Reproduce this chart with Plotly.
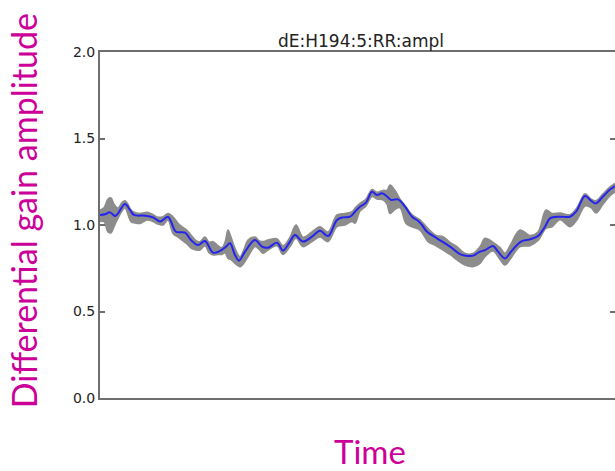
import plotly.graph_objects as go

# ---- data (time in arbitrary units, values = differential gain amplitude) ----
band_t = [0, 4, 8, 11, 14, 18, 22, 25, 28, 31, 36, 40, 47, 53, 58, 63, 68, 73, 78, 82,
          87, 91, 96, 100, 105, 109, 113, 118, 122, 125, 128, 131, 135, 140, 144, 148,
          155, 159, 163, 168, 177, 183, 190, 196, 203, 212, 220, 228, 237, 245, 252,
          255, 260, 266, 272, 277, 283, 287, 290, 295, 300, 306, 312, 320, 328, 336,
          343, 350, 357, 365, 373, 380, 385, 393, 400, 405, 410, 420, 430, 438, 446,
          452, 460, 470, 477, 485, 491, 496, 503, 510, 515]
band_upper = [1.087, 1.10, 1.15, 1.156, 1.12, 1.098, 1.13, 1.14, 1.12, 1.087, 1.07, 1.067,
              1.073, 1.06, 1.045, 1.048, 1.067, 1.048, 1.01, 0.99, 0.97, 0.942, 0.91,
              0.904, 0.93, 0.90, 0.904, 0.88, 0.87, 0.90, 0.971, 0.93, 0.865, 0.817,
              0.86, 0.913, 0.93, 0.91, 0.904, 0.913, 0.92, 0.88, 0.93, 1.00, 0.93, 0.96,
              0.99, 0.96, 1.058, 1.067, 1.077, 1.098, 1.125, 1.15, 1.205, 1.19, 1.20,
              1.20, 1.231, 1.20, 1.15, 1.106, 1.06, 1.03, 0.98, 0.94, 0.933, 0.90,
              0.875, 0.836, 0.836, 0.875, 0.923, 0.90, 0.87, 0.836, 0.88, 0.971, 0.94,
              0.96, 1.087, 1.067, 1.07, 1.06, 1.10, 1.18, 1.15, 1.14, 1.18, 1.22, 1.24]
band_lower = [1.020, 1.02, 0.96, 0.954, 0.99, 1.040, 1.08, 1.10, 1.06, 1.019, 1.01, 1.009,
              1.029, 1.02, 1.005, 1.000, 1.029, 0.951, 0.93, 0.913, 0.89, 0.867, 0.855,
              0.855, 0.88, 0.84, 0.827, 0.83, 0.83, 0.84, 0.807, 0.80, 0.778, 0.759,
              0.78, 0.817, 0.875, 0.86, 0.836, 0.855, 0.88, 0.83, 0.875, 0.923, 0.875,
              0.904, 0.93, 0.904, 0.99, 1.00, 1.02, 1.01, 1.08, 1.11, 1.165, 1.15,
              1.145, 1.12, 1.067, 1.09, 1.10, 1.009, 0.99, 0.97, 0.904, 0.88, 0.855,
              0.83, 0.798, 0.769, 0.759, 0.778, 0.817, 0.85, 0.80, 0.769, 0.80, 0.875,
              0.88, 0.91, 0.98, 0.99, 1.03, 0.99, 1.03, 1.11, 1.10, 1.07, 1.12, 1.17, 1.19]

fit_t = [0, 5, 10, 15, 18, 25, 30, 34, 45, 53, 60, 63, 68, 71, 76, 85, 91, 98, 105, 113,
         120, 126, 130, 135, 139, 145, 155, 162, 168, 177, 183, 190, 195, 203, 212, 220,
         228, 237, 243, 250, 255, 260, 266, 272, 277, 282, 287, 291, 298, 305, 312, 318,
         322, 327, 337, 350, 362, 373, 380, 385, 393, 398, 405, 411, 421, 430, 438, 445,
         450, 460, 470, 476, 485, 491, 496, 503, 510, 515]
fit_val = [1.058, 1.062, 1.073, 1.052, 1.067, 1.121, 1.087, 1.058, 1.054, 1.044, 1.020,
           1.029, 1.048, 1.020, 0.961, 0.956, 0.913, 0.884, 0.908, 0.840, 0.850, 0.875,
           0.894, 0.827, 0.794, 0.846, 0.913, 0.875, 0.869, 0.898, 0.852, 0.904, 0.942,
           0.904, 0.933, 0.967, 0.936, 1.029, 1.044, 1.048, 1.077, 1.106, 1.129, 1.192,
           1.173, 1.183, 1.165, 1.145, 1.148, 1.106, 1.048, 1.025, 1.000, 0.961, 0.923,
           0.875, 0.827, 0.823, 0.846, 0.855, 0.879, 0.846, 0.807, 0.846, 0.904, 0.917,
           0.936, 0.990, 1.038, 1.048, 1.048, 1.077, 1.168, 1.141, 1.125, 1.165, 1.205,
           1.225]

y_ticks = [0.0, 0.5, 1.0, 1.5, 2.0]
y_tick_labels = ["0.0", "0.5", "1.0", "1.5", "2.0"]

title_text = "dE:H194:5:RR:ampl"
y_label = "Differential gain amplitude"
x_label = "Time"

MAGENTA = "#CC0099"
SPINE = "#6e6e6e"
GRAY = "#8c8c8c"

fig = go.Figure()
fig.add_trace(go.Scatter(x=band_t, y=band_lower, mode="lines",
                         line=dict(color=GRAY, width=1.5, shape="spline", smoothing=1.0),
                         showlegend=False, hoverinfo="skip"))
fig.add_trace(go.Scatter(x=band_t, y=band_upper, mode="lines", fill="tonexty",
                         fillcolor=GRAY,
                         line=dict(color=GRAY, width=1.5, shape="spline", smoothing=1.0),
                         showlegend=False, hoverinfo="skip"))
fig.add_trace(go.Scatter(x=fit_t, y=fit_val, mode="lines", yaxis="y2",
                         line=dict(color="#2424ee", width=2, shape="spline", smoothing=1.0),
                         showlegend=False))

fig.update_layout(
    width=615, height=471,
    margin=dict(l=100, r=0, t=52, b=73),
    paper_bgcolor="white", plot_bgcolor="white",
    font=dict(family="DejaVu Sans", size=14, color="#222222"),
    xaxis=dict(range=[0, 515], showgrid=False, zeroline=False, showticklabels=False,
               ticks="", showline=True, linecolor=SPINE, linewidth=2, mirror=True),
    yaxis=dict(range=[0, 2], showgrid=False, zeroline=False, tickmode="array",
               tickvals=y_ticks, ticktext=y_tick_labels, ticks="inside", ticklen=5,
               tickcolor=SPINE, tickwidth=1.5, showline=True, linecolor=SPINE,
               linewidth=2, mirror=False,
               tickfont=dict(family="DejaVu Sans", size=14, color="#222222")),
    yaxis2=dict(range=[0, 2], overlaying="y", side="right", showgrid=False,
                zeroline=False, tickmode="array", tickvals=y_ticks, showticklabels=False,
                ticks="inside", ticklen=5, tickcolor=SPINE, tickwidth=1.5, showline=False),
    annotations=[
        dict(text=title_text, xref="paper", yref="paper", x=0.507, y=1.031,
             xanchor="center", yanchor="middle", showarrow=False,
             font=dict(family="DejaVu Sans", size=17, color="#222222")),
        dict(text=y_label, xref="paper", yref="paper", x=-0.148, y=0.542,
             xanchor="center", yanchor="middle", textangle=-90, showarrow=False,
             font=dict(family="Lato", size=34, color=MAGENTA)),
        dict(text=x_label, xref="paper", yref="paper", x=0.525, y=-0.153,
             xanchor="center", yanchor="middle", showarrow=False,
             font=dict(family="Lato", size=33, color=MAGENTA)),
    ],
)

fig.write_html("out.html")
